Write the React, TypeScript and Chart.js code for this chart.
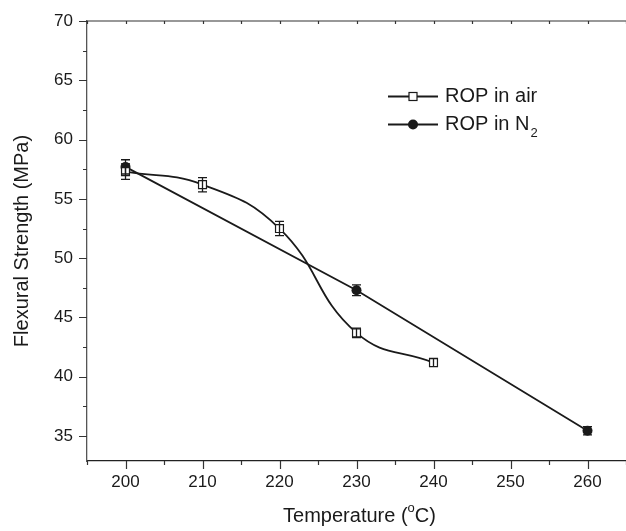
import React, { useEffect, useRef } from "react";
import { Chart, registerables } from "chart.js";

Chart.register(...registerables);

const airTemps = [200, 210, 220, 230, 240];
const airStrength = [57.3, 56.2, 52.5, 43.7, 41.2];
const airError = [0.65, 0.6, 0.6, 0.4, 0.35];

const n2Temps = [200, 230, 260];
const n2Strength = [57.7, 47.3, 35.45];
const n2Error = [0.6, 0.45, 0.35];

const xTicks = [200, 210, 220, 230, 240, 250, 260];
const xMinorTicks = [195, 205, 215, 225, 235, 245, 255, 265];
const yTicks = [35, 40, 45, 50, 55, 60, 65, 70];
const yMinorTicks = [37.5, 42.5, 47.5, 52.5, 57.5, 62.5, 67.5];

const legendLabels = ["ROP in air", "ROP in N"];
const xTitle = ["Temperature (", "o", "C)"];
const yTitle = "Flexural Strength (MPa)";

const FONT = "'Liberation Sans', Arial, Helvetica, sans-serif";
const INK = "#1a1a1a";

const decorPlugin = {
  id: "decor",
  afterDatasetsDraw(chart: any) {
    const ctx = chart.ctx;
    const xs = chart.scales.x;
    const ys = chart.scales.y;
    ctx.save();
    ctx.strokeStyle = INK;
    ctx.lineWidth = 1.3;
    const drawErr = (xv: number[], yv: number[], ev: number[]) => {
      xv.forEach((t, i) => {
        const px = xs.getPixelForValue(t);
        const y1 = ys.getPixelForValue(yv[i] + ev[i]);
        const y2 = ys.getPixelForValue(yv[i] - ev[i]);
        ctx.beginPath();
        ctx.moveTo(px, y1);
        ctx.lineTo(px, y2);
        ctx.moveTo(px - 4.5, y1);
        ctx.lineTo(px + 4.5, y1);
        ctx.moveTo(px - 4.5, y2);
        ctx.lineTo(px + 4.5, y2);
        ctx.stroke();
      });
    };
    drawErr(airTemps, airStrength, airError);
    drawErr(n2Temps, n2Strength, n2Error);
    ctx.restore();
  },
  afterDraw(chart: any) {
    const ctx = chart.ctx;
    const xs = chart.scales.x;
    const ys = chart.scales.y;
    const area = chart.chartArea;
    ctx.save();
    ctx.strokeStyle = "#333";
    ctx.lineWidth = 1.2;
    ctx.beginPath();
    ctx.moveTo(area.left, area.top);
    ctx.lineTo(area.right, area.top);
    ctx.stroke();
    ctx.beginPath();
    yTicks.forEach((v) => {
      const py = Math.round(ys.getPixelForValue(v)) + 0.5;
      ctx.moveTo(area.left, py);
      ctx.lineTo(area.left - 8, py);
    });
    yMinorTicks.forEach((v) => {
      const py = Math.round(ys.getPixelForValue(v)) + 0.5;
      ctx.moveTo(area.left, py);
      ctx.lineTo(area.left - 4, py);
    });
    xTicks.forEach((v) => {
      const px = Math.round(xs.getPixelForValue(v)) + 0.5;
      ctx.moveTo(px, area.bottom);
      ctx.lineTo(px, area.bottom + 8);
      ctx.moveTo(px, area.top);
      ctx.lineTo(px, area.top + 3);
    });
    xMinorTicks.forEach((v) => {
      const px = Math.round(xs.getPixelForValue(v)) + 0.5;
      ctx.moveTo(px, area.bottom);
      ctx.lineTo(px, area.bottom + 4);
      ctx.moveTo(px, area.top);
      ctx.lineTo(px, area.top + 3);
    });
    ctx.stroke();

    ctx.fillStyle = INK;
    ctx.font = `20px ${FONT}`;
    ctx.textBaseline = "middle";
    ctx.textAlign = "left";
    const w0 = ctx.measureText(xTitle[0]).width;
    ctx.font = `13px ${FONT}`;
    const w1 = ctx.measureText(xTitle[1]).width;
    ctx.font = `20px ${FONT}`;
    const w2 = ctx.measureText(xTitle[2]).width;
    const total = w0 + w1 + w2;
    const cx = (area.left + area.right) / 2 + 3;
    const sx = cx - total / 2;
    const ty = 516;
    ctx.fillText(xTitle[0], sx, ty);
    ctx.font = `13px ${FONT}`;
    ctx.fillText(xTitle[1], sx + w0, ty - 8);
    ctx.font = `20px ${FONT}`;
    ctx.fillText(xTitle[2], sx + w0 + w1, ty);

    ctx.save();
    ctx.translate(22, (area.top + area.bottom) / 2);
    ctx.rotate(-Math.PI / 2);
    ctx.textAlign = "center";
    ctx.fillText(yTitle, 0, 0);
    ctx.restore();

    const rows = [96.5, 124.5];
    ctx.lineWidth = 1.8;
    ctx.strokeStyle = INK;
    rows.forEach((ry, i) => {
      ctx.beginPath();
      ctx.moveTo(388, ry);
      ctx.lineTo(438, ry);
      ctx.stroke();
      if (i === 0) {
        ctx.fillStyle = "#fff";
        ctx.fillRect(409, ry - 4, 8, 8);
        ctx.lineWidth = 1.2;
        ctx.strokeRect(409, ry - 4, 8, 8);
        ctx.lineWidth = 1.8;
      } else {
        ctx.fillStyle = INK;
        ctx.beginPath();
        ctx.arc(413, ry, 5, 0, Math.PI * 2);
        ctx.fill();
      }
      ctx.fillStyle = INK;
      ctx.font = `20px ${FONT}`;
      ctx.textAlign = "left";
      ctx.textBaseline = "middle";
      ctx.fillText(legendLabels[i], 445, ry);
      if (i === 1) {
        const lw = ctx.measureText(legendLabels[i]).width;
        ctx.font = `13px ${FONT}`;
        ctx.fillText("2", 445 + lw + 1, ry + 9);
      }
    });
    ctx.restore();
  },
};

export default function App() {
  const ref = useRef<HTMLCanvasElement | null>(null);
  useEffect(() => {
    document.body.style.margin = "0";
    const canvas = ref.current;
    if (!canvas) return;
    const chart = new Chart(canvas, {
      type: "line",
      data: {
        datasets: [
          {
            label: "ROP in air",
            data: airTemps.map((t, i) => ({ x: t, y: airStrength[i] })),
            borderColor: INK,
            borderWidth: 1.8,
            tension: 0.45,
            pointStyle: "rect",
            pointRadius: 5.6,
            pointBorderWidth: 1.2,
            pointBackgroundColor: "#fff",
            pointBorderColor: INK,
          },
          {
            label: "ROP in N2",
            data: n2Temps.map((t, i) => ({ x: t, y: n2Strength[i] })),
            borderColor: INK,
            borderWidth: 1.8,
            tension: 0,
            pointStyle: "circle",
            pointRadius: 5,
            pointBorderWidth: 0,
            pointBackgroundColor: INK,
            pointBorderColor: INK,
          },
        ],
      },
      options: {
        responsive: false,
        animation: false,
        layout: { autoPadding: false, padding: { top: 21, right: 0, left: 0, bottom: 0 } },
        plugins: { legend: { display: false }, tooltip: { enabled: false } },
        scales: {
          x: {
            type: "linear",
            min: 195,
            max: 265,
            afterBuildTicks: (s: any) => {
              s.ticks = xTicks.map((v) => ({ value: v }));
            },
            afterFit: (s: any) => {
              s.height = 70;
              s.paddingLeft = 0;
              s.paddingRight = 0;
            },
            grid: { display: true, drawOnChartArea: false, drawTicks: false },
            border: { display: true, color: "#222", width: 1.3 },
            ticks: {
              padding: 11,
              color: INK,
              font: { family: FONT, size: 17 },
              maxRotation: 0,
            },
          },
          y: {
            type: "linear",
            min: 32.9,
            max: 70,
            afterBuildTicks: (s: any) => {
              s.ticks = yTicks.map((v) => ({ value: v }));
            },
            afterFit: (s: any) => {
              s.width = 87;
              s.paddingTop = 0;
              s.paddingBottom = 0;
            },
            grid: { display: true, drawOnChartArea: false, drawTicks: false },
            border: { display: true, color: "#555", width: 1.3 },
            ticks: {
              padding: 14,
              color: INK,
              font: { family: FONT, size: 17 },
            },
          },
        },
      },
      plugins: [decorPlugin],
    } as any);
    return () => chart.destroy();
  }, []);
  return <canvas ref={ref} width={626} height={531} style={{ display: "block" }} />;
}
